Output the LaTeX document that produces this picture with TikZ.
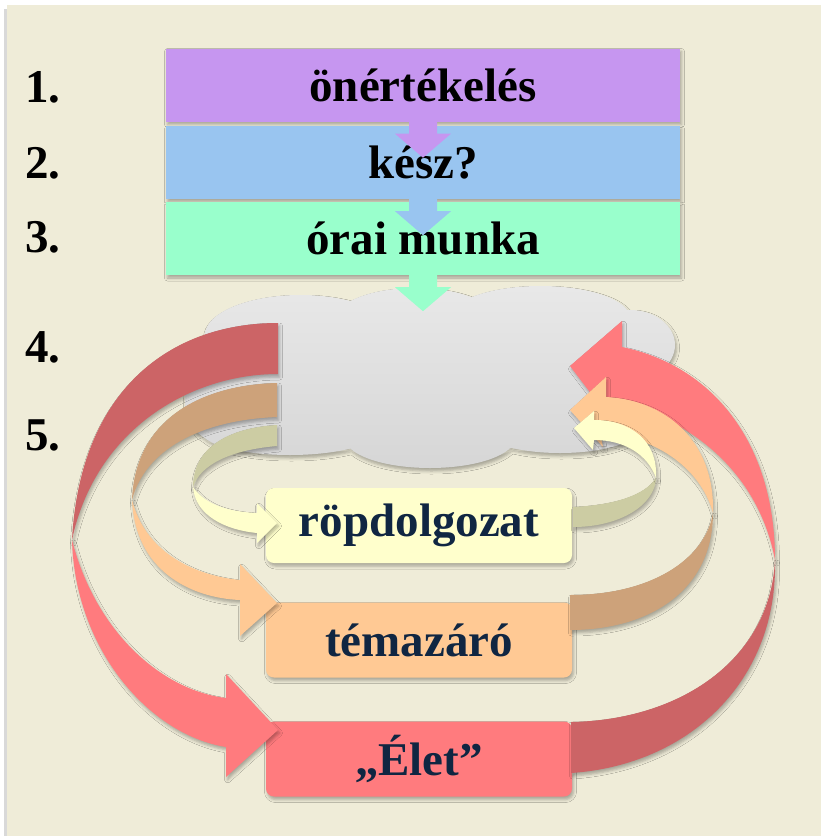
\documentclass[tikz,border=0pt]{standalone}
\usepackage{fontspec}
\setmainfont{Liberation Serif}
\usetikzlibrary{shadows.blur}

\definecolor{bgbeige}{RGB}{239,236,216}
\definecolor{lilac}{RGB}{198,150,240}
\definecolor{skyblue}{RGB}{153,197,240}
\definecolor{mint}{RGB}{153,255,204}
\definecolor{redfront}{RGB}{255,123,126}
\definecolor{redback}{RGB}{204,100,102}
\definecolor{orfront}{RGB}{255,201,148}
\definecolor{orback}{RGB}{205,162,122}
\definecolor{yefront}{RGB}{255,255,204}
\definecolor{yeback}{RGB}{204,204,163}
\definecolor{navytext}{RGB}{16,38,66}

\begin{document}
\begin{tikzpicture}[x=1pt,y=-1pt,
  every node/.style={font=\fontsize{47}{50}\selectfont\bfseries},
  shad/.style={blur shadow={shadow xshift=1.5pt,shadow yshift=-3pt,
      shadow blur radius=3pt,shadow opacity=30}},
  stepbar/.style={shad,minimum width=514pt,minimum height=73pt,inner sep=0pt},
  levelbox/.style={shad,rounded corners=8pt,minimum width=306pt,
      minimum height=75pt,inner sep=0pt,text=navytext},
  num/.style={anchor=base west,inner sep=0pt}]
  \useasboundingbox (0,0) rectangle (821,836);
  \fill[black!15] (4,9) rectangle (8,836);
  \fill[bgbeige] (7,5) rectangle (821,836);

  % cloud
  \shade[shad,top color=black!9,bottom color=black!16]
    (430,378) ellipse [x radius=230,y radius=75]
    (300,335) ellipse [x radius=95,y radius=40]
    (415,320) ellipse [x radius=80,y radius=32]
    (540,318) ellipse [x radius=90,y radius=32]
    (630,345) ellipse [x radius=45,y radius=35]
    (640,395) ellipse [x radius=38,y radius=45]
    (215,400) ellipse [x radius=30,y radius=40]
    (290,430) ellipse [x radius=90,y radius=25]
    (430,438) ellipse [x radius=85,y radius=30]
    (560,428) ellipse [x radius=80,y radius=25];

  % numbers
  \node[num] (n1) at (25,102) {1.};
  \node[num] (n2) at (25,178) {2.};
  \node[num] (n3) at (25,252) {3.};
  \node[num] (n4) at (25,362) {4.};
  \node[num] (n5) at (25,450) {5.};

  % steps
  \node[stepbar,fill=lilac] (onert) at (423,85) {önértékelés};
  \node[stepbar,fill=skyblue] (kesz) at (423,162.5) {kész?};
  \node[stepbar,fill=mint] (orai) at (423,238.5) {órai munka};
  \foreach \stepname/\stepcol in {onert/lilac,kesz/skyblue,orai/mint}
    \fill[\stepcol] ([xshift=-14pt]\stepname.south) -- ++(0,12) -- ++(-14,0)
      -- ++(28,24) -- ++(28,-24) -- ++(-14,0) -- ++(0,-12) -- cycle;

  % levels
  \node[levelbox,fill=yefront] (ropd) at (419,525.5) {röpdolgozat};
  \node[levelbox,fill=orfront] (temaz) at (419,640) {témazáró};
  \node[levelbox,fill=redfront] (elet) at (419,759) {„Élet”};

  % left ribbons
  \fill[shad,redback] (278,323) .. controls (170,323) and (80,390) .. (72,540)
    .. controls (95,430) and (190,374) .. (278,374) -- cycle;
  \fill[shad,redfront] (72,540) .. controls (75,650) and (150,735) .. (226,747)
    -- (226,777) -- (278,730) -- (226,674) -- (226,698)
    .. controls (160,690) and (95,630) .. (72,540) -- cycle;
  \fill[shad,orback] (277,383) .. controls (200,385) and (135,420) .. (132,500)
    .. controls (145,450) and (200,420) .. (277,417) -- cycle;
  \fill[shad,orfront] (132,500) .. controls (135,570) and (190,598) .. (240,600)
    -- (240,636) -- (277,603) -- (240,564) -- (240,580)
    .. controls (190,575) and (145,550) .. (132,500) -- cycle;
  \fill[shad,yeback] (277,425) .. controls (225,428) and (193,450) .. (193,487)
    .. controls (200,465) and (230,450) .. (277,446) -- cycle;
  \fill[shad,yefront] (193,487) .. controls (195,515) and (225,530) .. (257,533)
    -- (257,543) -- (277,523) -- (257,503) -- (257,513)
    .. controls (230,512) and (205,505) .. (193,487) -- cycle;

  % right ribbons
  \fill[shad,redback] (571,773) .. controls (690,765) and (778,680) .. (775,560)
    .. controls (770,660) and (680,720) .. (571,722) -- cycle;
  \fill[shad,redfront] (775,560) .. controls (775,440) and (710,365) .. (622,347)
    -- (622,321) -- (570,366) -- (605,412) -- (610,400)
    .. controls (700,420) and (760,480) .. (775,560) -- cycle;
  \fill[shad,orback] (570,630) .. controls (650,630) and (713,590) .. (713,513)
    .. controls (705,560) and (650,595) .. (570,595) -- cycle;
  \fill[shad,orfront] (713,513) .. controls (715,440) and (665,400) .. (606,397)
    -- (606,377) -- (570,410) -- (603,447) -- (600,433)
    .. controls (650,435) and (700,465) .. (713,513) -- cycle;
  \fill[shad,yeback] (573,527) .. controls (620,527) and (655,505) .. (656,478)
    .. controls (645,495) and (615,505) .. (573,507) -- cycle;
  \fill[shad,yefront] (656,478) .. controls (658,440) and (630,420) .. (594,420)
    -- (594,411) -- (574,428) -- (593,450) -- (594,440)
    .. controls (625,440) and (648,455) .. (656,478) -- cycle;
\end{tikzpicture}
\end{document}
